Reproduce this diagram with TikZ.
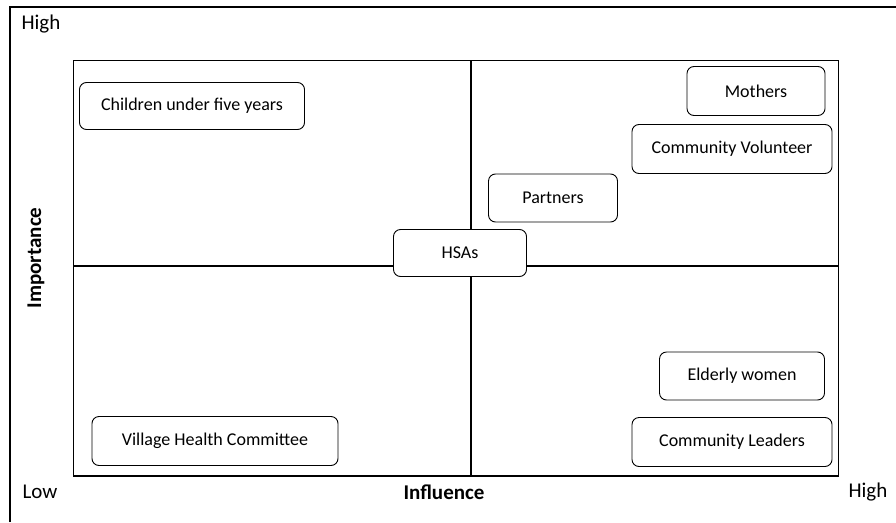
\documentclass[tikz,border=0pt]{standalone}
\usepackage{fontspec}
\setmainfont{Carlito}

\begin{document}
\begin{tikzpicture}[
        x=1pt, y=-1pt,
        stake/.style={draw, fill=white, rounded corners=7pt, line width=0.9pt, font=\fontsize{18}{20}\selectfont, inner sep=0pt},
        axislabel/.style={font=\fontsize{21}{24}\selectfont},
    ]
    \useasboundingbox (0,0) rectangle (896,522);
    % outer frame
    \draw[line width=1.3pt] (10,522) -- (10,7) -- (896,7);
    % grid
    \draw[line width=1pt] (73,60) rectangle (838,476);
    \draw[line width=2pt] (73,266) -- (838,266);
    \draw[line width=2pt] (471,60) -- (471,476);
    \draw[line width=2pt] (73,476) -- (838,476);
    % stakeholders
    \node[stake, minimum width=225pt, minimum height=47pt] (children) at (192,106) {Children under five years};
    \node[stake, minimum width=138pt, minimum height=49pt] (mothers) at (756,91) {Mothers};
    \node[stake, minimum width=200pt, minimum height=49pt] (volunteer) at (732,149) {Community Volunteer};
    \node[stake, minimum width=129pt, minimum height=48pt] (partners) at (553,198) {Partners};
    \node[stake, minimum width=133pt, minimum height=47pt] (hsas) at (460,253) {HSAs};
    \node[stake, minimum width=165pt, minimum height=48pt] (elderly) at (742,376) {Elderly women};
    \node[stake, minimum width=246pt, minimum height=49pt] (village) at (215,441) {Village Health Committee};
    \node[stake, minimum width=200pt, minimum height=49pt] (leaders) at (732,442) {Community Leaders};
    % axis labels
    \node[axislabel] (highy) at (41,24) {High};
    \node[axislabel] (low) at (40,492) {Low};
    \node[axislabel, font=\fontsize{21}{24}\selectfont\bfseries] (influence) at (444,492) {Influence};
    \node[axislabel] (highx) at (868,492) {High};
    \node[axislabel, font=\fontsize{21}{24}\selectfont\bfseries, rotate=90] (importance) at (36,258) {Importance};
\end{tikzpicture}
\end{document}
